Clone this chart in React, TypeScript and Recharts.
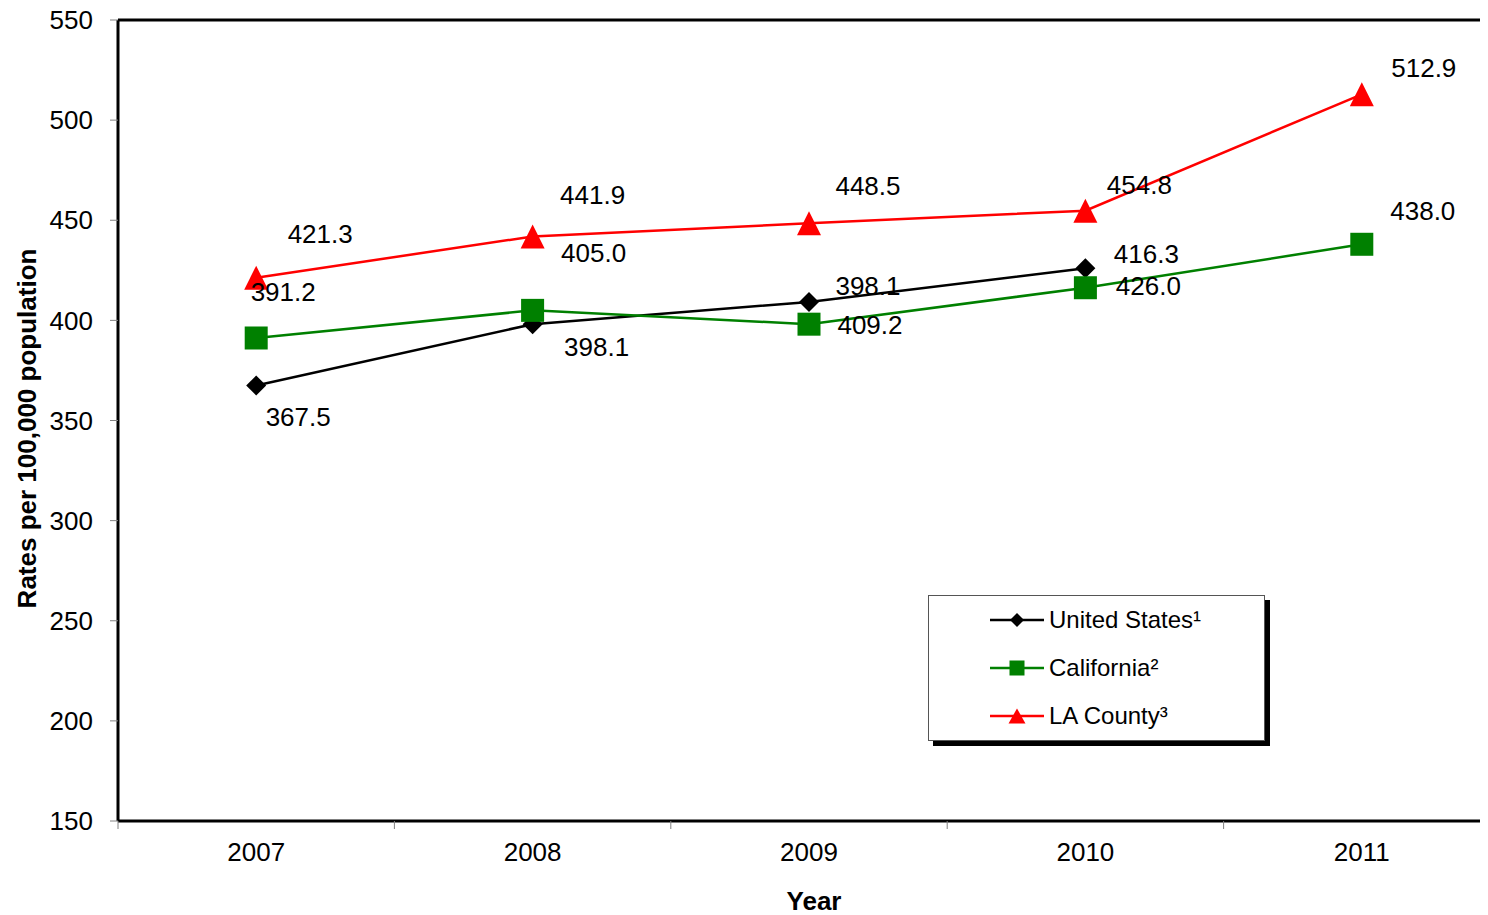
import React from "react";
import {
  Label,
  LabelList,
  Legend,
  Line,
  LineChart,
  ReferenceLine,
  XAxis,
  YAxis,
} from "recharts";

const YEARS = ["2007", "2008", "2009", "2010", "2011"];
const UNITED_STATES = [367.5, 398.1, 409.2, 426.0, null];
const CALIFORNIA = [391.2, 405.0, 398.1, 416.3, 438.0];
const LA_COUNTY = [421.3, 441.9, 448.5, 454.8, 512.9];

// label texts as printed next to each point (the source has a few swapped)
const US_LABELS = ["367.5", "398.1", "398.1", "416.3"];
const CA_LABELS = ["391.2", "405.0", "409.2", "426.0", "438.0"];
const LA_LABELS = ["421.3", "441.9", "448.5", "454.8", "512.9"];

const Y_TICKS = [150, 200, 250, 300, 350, 400, 450, 500, 550];

const SERIES_NAMES = ["United States¹", "California²", "LA County³"];

const data = YEARS.map((year, i) => ({
  year,
  us: UNITED_STATES[i],
  ca: CALIFORNIA[i],
  la: LA_COUNTY[i],
}));

// label offsets from the point (centre of text), px
const US_OFFSETS = [
  [42, 31],
  [64, 23],
  [59, -16],
  [61, -14],
];
const CA_OFFSETS = [
  [27, -46],
  [61, -57],
  [61, 1],
  [63, -2],
  [61, -33],
];
const LA_OFFSETS = [
  [64, -44],
  [60, -42],
  [59, -37],
  [54, -26],
  [62, -26],
];

const FONT = "'Liberation Sans', Arial, sans-serif";
const FS = 26;
const BLACK = "#000000";
const GREEN = "#008000";
const RED = "#FF0000";

// the original plot runs a bit past the right edge of the image
const CHART_W = 1492;
const CHART_H = 907;
const Y_AXIS_W = 110;
const HALF_BAND = (CHART_W - Y_AXIS_W) / YEARS.length / 2;

function Diamond({ cx, cy, r = 10 }: { cx: number; cy: number; r?: number }) {
  return <polygon points={`${cx},${cy - r} ${cx + r},${cy} ${cx},${cy + r} ${cx - r},${cy}`} fill={BLACK} />;
}

function Square({ cx, cy, s = 11.5 }: { cx: number; cy: number; s?: number }) {
  return <rect x={cx - s} y={cy - s} width={s * 2} height={s * 2} fill={GREEN} />;
}

function Triangle({ cx, cy, w = 12, h = 12 }: { cx: number; cy: number; w?: number; h?: number }) {
  return <polygon points={`${cx},${cy - h} ${cx + w},${cy + h} ${cx - w},${cy + h}`} fill={RED} />;
}

function makeDot(kind: "d" | "s" | "t") {
  return (props: any) => {
    const { cx, cy, index } = props;
    if (cx == null || cy == null || props.value == null) return <g key={`e-${kind}-${index}`} />;
    return (
      <g key={`${kind}-${index}`}>
        {kind === "d" && <Diamond cx={cx} cy={cy} />}
        {kind === "s" && <Square cx={cx} cy={cy} />}
        {kind === "t" && <Triangle cx={cx} cy={cy} />}
      </g>
    );
  };
}

function makeLabel(texts: string[], offsets: number[][]) {
  return (props: any) => {
    const { x, y, index } = props;
    if (x == null || y == null || !texts[index]) return null;
    const [dx, dy] = offsets[index];
    return (
      <text
        x={x + dx}
        y={y + dy}
        dy="0.35em"
        textAnchor="middle"
        fontSize={FS}
        fontFamily={FONT}
        fill={BLACK}
      >
        {texts[index]}
      </text>
    );
  };
}

function YearTick(props: any) {
  const { x, y, payload, index } = props;
  return (
    <g>
      <line x1={x - HALF_BAND} y1={y} x2={x - HALF_BAND} y2={y + 8} stroke="#808080" strokeWidth={1} />
      {index === YEARS.length - 1 && (
        <line x1={x + HALF_BAND} y1={y} x2={x + HALF_BAND} y2={y + 8} stroke="#808080" strokeWidth={1} />
      )}
      <text x={x} y={y + 40} textAnchor="middle" fontSize={FS} fontFamily={FONT} fill={BLACK}>
        {payload.value}
      </text>
    </g>
  );
}

function LegendIcon({ kind, color }: { kind: "d" | "s" | "t"; color: string }) {
  return (
    <svg width={56} height={24} style={{ display: "block" }}>
      <line x1={0} y1={12} x2={54} y2={12} stroke={color} strokeWidth={2.5} />
      {kind === "d" && <Diamond cx={27} cy={12} r={7} />}
      {kind === "s" && <Square cx={27} cy={12} s={7.5} />}
      {kind === "t" && <Triangle cx={27} cy={12} w={8.5} h={7.5} />}
    </svg>
  );
}

function LegendBox() {
  const items: { kind: "d" | "s" | "t"; color: string }[] = [
    { kind: "d", color: BLACK },
    { kind: "s", color: GREEN },
    { kind: "t", color: RED },
  ];
  return (
    <div
      style={{
        width: 337,
        height: 146,
        boxSizing: "border-box",
        border: "1px solid #555",
        background: "#fff",
        boxShadow: "5px 5px 0 #000",
        paddingTop: 0,
        paddingLeft: 61,
        fontFamily: FONT,
        fontSize: 24,
        color: BLACK,
      }}
    >
      {items.map((it, i) => (
        <div key={i} style={{ display: "flex", alignItems: "center", height: 48 }}>
          <LegendIcon kind={it.kind} color={it.color} />
          <span style={{ marginLeft: 3 }}>{SERIES_NAMES[i]}</span>
        </div>
      ))}
    </div>
  );
}

export default function App() {
  return (
    <div style={{ width: 1480, height: CHART_H, overflow: "hidden", position: "relative", fontFamily: FONT }}>
      <LineChart width={CHART_W} height={CHART_H} data={data} margin={{ top: 12, right: 0, left: 0, bottom: 0 }}>
        <ReferenceLine y={550} stroke={BLACK} strokeWidth={3} />
        <XAxis
          dataKey="year"
          scale="band"
          height={94}
          axisLine={{ stroke: BLACK, strokeWidth: 3 }}
          tickLine={false}
          tickSize={0}
          tickMargin={0}
          interval={0}
          tick={<YearTick />}
        >
          <Label
            content={(p: any) => {
              const vb = p.viewBox;
              return (
                <text
                  x={814 - 8}
                  y={vb.y + 89}
                  textAnchor="middle"
                  fontSize={FS}
                  fontWeight="bold"
                  fontFamily={FONT}
                  fill={BLACK}
                >
                  Year
                </text>
              );
            }}
          />
        </XAxis>
        <YAxis
          width={Y_AXIS_W}
          domain={[150, 550]}
          ticks={Y_TICKS}
          interval={0}
          axisLine={{ stroke: BLACK, strokeWidth: 3 }}
          tickLine={{ stroke: "#808080" }}
          tickSize={8}
          tickMargin={17}
          tick={{ fontSize: FS, fill: BLACK, fontFamily: FONT }}
        >
          <Label
            content={(p: any) => {
              const vb = p.viewBox;
              const cx = 19;
              const cy = vb.y + vb.height / 2 + 8;
              return (
                <text
                  x={cx}
                  y={cy}
                  transform={`rotate(-90 ${cx} ${cy})`}
                  dy="0.35em"
                  textAnchor="middle"
                  fontSize={FS}
                  fontWeight="bold"
                  fontFamily={FONT}
                  fill={BLACK}
                >
                  Rates per 100,000 population
                </text>
              );
            }}
          />
        </YAxis>
        <Legend
          layout="vertical"
          align="center"
          verticalAlign="middle"
          wrapperStyle={{ left: 920, top: 587, width: 342, height: 151 }}
          content={() => <LegendBox />}
        />
        <Line
          dataKey="us"
          name={SERIES_NAMES[0]}
          stroke={BLACK}
          strokeWidth={2.5}
          dot={makeDot("d")}
          activeDot={false}
          connectNulls={false}
          isAnimationActive={false}
        >
          <LabelList dataKey="us" content={makeLabel(US_LABELS, US_OFFSETS)} />
        </Line>
        <Line
          dataKey="ca"
          name={SERIES_NAMES[1]}
          stroke={GREEN}
          strokeWidth={2.5}
          dot={makeDot("s")}
          activeDot={false}
          isAnimationActive={false}
        >
          <LabelList dataKey="ca" content={makeLabel(CA_LABELS, CA_OFFSETS)} />
        </Line>
        <Line
          dataKey="la"
          name={SERIES_NAMES[2]}
          stroke={RED}
          strokeWidth={2.5}
          dot={makeDot("t")}
          activeDot={false}
          isAnimationActive={false}
        >
          <LabelList dataKey="la" content={makeLabel(LA_LABELS, LA_OFFSETS)} />
        </Line>
      </LineChart>
    </div>
  );
}
